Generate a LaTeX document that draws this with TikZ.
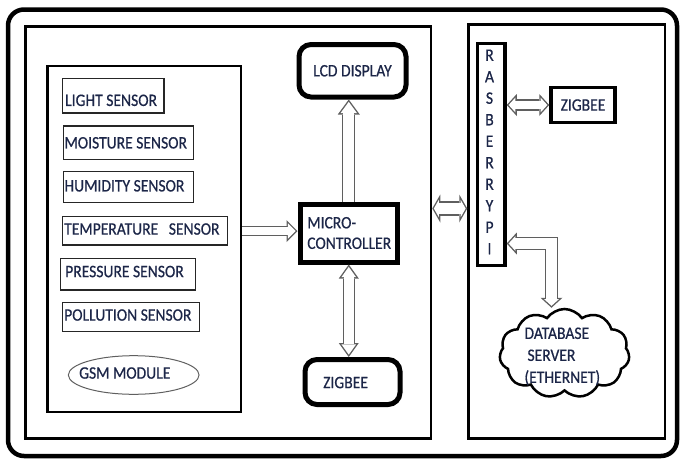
\documentclass[tikz,border=0pt]{standalone}
\usepackage{fontspec}
\setmainfont{Carlito}[FakeStretch=0.89,FakeBold=0.6]
\usetikzlibrary{arrows.meta,shapes.geometric,shapes.symbols}
\definecolor{navy}{RGB}{28,38,72}
\definecolor{agray}{RGB}{95,95,95}
\newcommand\fs{\fontsize{17.5}{20.5}\selectfont}
\def\bt{1.4}
\tikzset{
  bcalc/.code n args={3}{%
    \pgfmathsetmacro\bOl{#1+\bt}\pgfmathsetmacro\bIl{#1-\bt}%
    \pgfmathsetmacro\bD{\bt/sin(atan(#2/(2*#3)))}%
    \pgfmathsetmacro\bLi{#3-\bt-\bD}\pgfmathsetmacro\bWi{\bLi*#2/#3}%
    \def\bLo{#3}\def\bWo{#2}},
  sarrow/.style n args={3}{bcalc={#1}{#2}{#3},
    preaction={draw=agray, line width=\bOl pt, shorten >=0pt, shorten <=0pt,
      -{Triangle[length=\bLo pt, width=\bWo pt, line width=0pt]}},
    draw=white, line width=\bIl pt, shorten >=\bD pt,
    -{Triangle[length=\bLi pt, width=\bWi pt, line width=0pt]}},
  darrow/.style n args={3}{bcalc={#1}{#2}{#3},
    preaction={draw=agray, line width=\bOl pt, shorten >=0pt, shorten <=0pt,
      {Triangle[length=\bLo pt, width=\bWo pt, line width=0pt]}-{Triangle[length=\bLo pt, width=\bWo pt, line width=0pt]}},
    draw=white, line width=\bIl pt, shorten >=\bD pt, shorten <=\bD pt,
    {Triangle[length=\bLi pt, width=\bWi pt, line width=0pt]}-{Triangle[length=\bLi pt, width=\bWi pt, line width=0pt]}},
  box/.style={draw, inner sep=0pt},
  sbox/.style={box, line width=1.2pt, draw=black!85},
  txt/.style={font=\fs, text=navy, inner sep=0pt, text height=11.3pt, text depth=0pt}
}
\begin{document}
\begin{tikzpicture}[x=1pt,y=-1pt]
\useasboundingbox (0,0) rectangle (683,461);
% frames
\node[box, rounded corners=16pt, line width=4.5pt, minimum width=669pt, minimum height=446.5pt] (frame) at (342.5,232.75) {};
\node[box, line width=2.5pt, minimum width=405.5pt, minimum height=412pt] (lpanel) at (228.25,232.5) {};
\node[box, line width=2.5pt, minimum width=196.5pt, minimum height=414pt] (rpanel) at (566.75,231.5) {};
\node[box, line width=2.5pt, minimum width=193.5pt, minimum height=346pt] (sensors) at (144.25,239) {};
% sensors
\node[sbox, minimum width=101.5pt, minimum height=34.5pt] (light) at (113.25,95.75) {};
\node[txt, anchor=west] (lightT) at (65,100.3) {LIGHT SENSOR};
\node[sbox, minimum width=130pt, minimum height=33.3pt] (moist) at (128.3,142.65) {};
\node[txt, anchor=west] (moistT) at (64.3,142.8) {MOISTURE SENSOR};
\node[sbox, minimum width=130pt, minimum height=30.6pt] (humid) at (128.3,187) {};
\node[txt, anchor=west] (humidT) at (64.3,185.8) {HUMIDITY SENSOR};
\node[sbox, minimum width=165pt, minimum height=28.3pt] (temp) at (144.8,230.85) {};
\node[txt, anchor=west] (tempT) at (64,229) {TEMPERATURE~~~SENSOR};
\node[sbox, minimum width=135pt, minimum height=31.7pt] (press) at (128.2,274.15) {};
\node[txt, anchor=west] (pressT) at (65,271.5) {PRESSURE SENSOR};
\node[sbox, minimum width=137pt, minimum height=29.4pt] (poll) at (130.8,317) {};
\node[txt, anchor=west] (pollT) at (64,315) {POLLUTION SENSOR};
\node[ellipse, draw=agray, line width=1pt, inner sep=0pt, minimum width=130.7pt, minimum height=38.6pt] (gsm) at (133.7,375) {};
\node[txt, anchor=west] (gsmT) at (79,373) {GSM MODULE};
% middle
\node[box, rounded corners=12pt, line width=5pt, minimum width=107pt, minimum height=52.5pt, txt] (lcd) at (352.5,70.75) {LCD DISPLAY};
\node[box, line width=5pt, minimum width=97.5pt, minimum height=58pt, font=\fs, text=navy, align=left, text width=82.9pt, inner xsep=7.3pt, inner ysep=0pt] (mc) at (348.75,233) {MICRO-\\CONTROLLER};
\node[box, rounded corners=12pt, line width=5pt, minimum width=95pt, minimum height=45pt] (zb) at (352.5,382) {};
\node[txt, anchor=west] (zbT) at (323,382.5) {ZIGBEE};
% right
\node[box, line width=3.5pt, minimum width=27.5pt, minimum height=222pt] (rpi) at (491.25,154.5) {};
\node[font=\fontsize{17.5}{21.5}\selectfont, text=navy, inner sep=0pt, align=center, anchor=north] (rpiT) at (489.5,49.35) {R\\A\\S\\B\\E\\R\\R\\Y\\P\\I};
\node[box, line width=3.5pt, minimum width=64pt, minimum height=35pt, txt] (zbr) at (583,105) {ZIGBEE};
\node[cloud, draw, line width=2.5pt, cloud puffs=11, cloud puff arc=110, aspect=1.45, minimum width=130pt, minimum height=89pt, inner sep=0pt] (db) at (564.5,353.5) {};
\node[font=\fontsize{17.5}{22}\selectfont, text=navy, inner sep=0pt, align=left, anchor=north west] (dbT) at (524.3,327.35) {DATABASE\\\hspace*{3pt}SERVER\\(ETHERNET)};
% arrows
\coordinate (yS) at (0,231);
\coordinate (yP) at (0,208.5);
\coordinate (yE) at (0,243.5);
\coordinate (xE) at (551.5,0);
\draw[sarrow={9}{22}{11}] (sensors.east |- yS) -- (mc.west |- yS);
\draw[sarrow={12}{22}{15}] (mc.north) -- (mc.north |- lcd.south);
\draw[darrow={11}{20}{14}] (mc.south) -- (mc.south |- zb.north);
\draw[darrow={13}{28}{8}] (lpanel.east |- yP) -- (rpanel.west |- yP);
\draw[darrow={10}{22}{10}] (rpi.east |- zbr.west) -- (zbr.west);
\draw[darrow={12}{22}{10}] (rpi.east |- yE) -| (db.north -| xE);
\end{tikzpicture}
\end{document}
